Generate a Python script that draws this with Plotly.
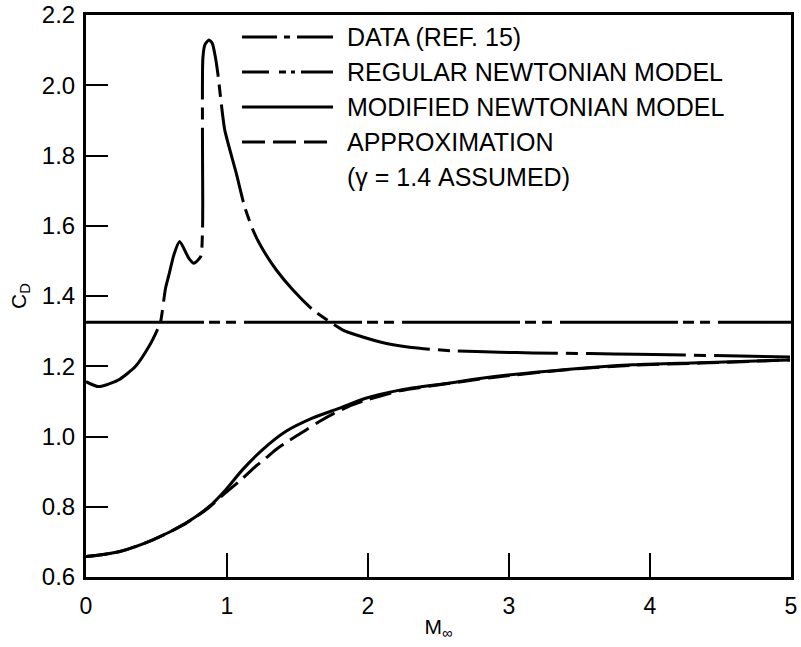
import plotly.graph_objects as go

# ---------------- data ----------------
data_M = [0.0, 0.09, 0.23, 0.35, 0.446, 0.505, 0.529, 0.564, 0.588, 0.623, 0.664,
          0.73, 0.765, 0.813, 0.826, 0.828, 0.826, 0.829, 0.843, 0.872, 0.896, 0.919,
          0.938, 0.955, 0.984, 1.066, 1.125, 1.184, 1.243, 1.350, 1.468, 1.610, 1.728,
          1.823, 1.918, 2.131, 2.367, 2.601, 2.935, 3.169, 3.573, 3.907, 4.638, 4.993]
data_CD = [1.156, 1.142, 1.161, 1.199, 1.256, 1.303, 1.327, 1.422, 1.460, 1.517, 1.555,
           1.507, 1.493, 1.512, 1.583, 1.668, 1.85, 2.077, 2.115, 2.129, 2.119, 2.077,
           2.024, 1.963, 1.873, 1.749, 1.654, 1.588, 1.540, 1.474, 1.417, 1.360, 1.327,
           1.303, 1.289, 1.265, 1.251, 1.244, 1.240, 1.238, 1.236, 1.234, 1.229, 1.226]

newton_M = [0.0, 5.0]
newton_CD = [1.325, 1.325]

modified_M = [0.0, 0.233, 0.47, 0.706, 0.872, 0.99, 1.109, 1.251, 1.416, 1.605, 1.794,
              1.984, 2.225, 2.556, 2.885, 3.408, 3.879, 4.354, 4.993]
modified_CD = [0.658, 0.672, 0.705, 0.753, 0.800, 0.848, 0.905, 0.962, 1.014, 1.052, 1.080,
               1.109, 1.132, 1.151, 1.170, 1.191, 1.204, 1.210, 1.218]

approx_M = [0.0, 0.233, 0.47, 0.706, 0.872, 0.99, 1.097, 1.215, 1.274, 1.357, 1.428, 1.558,
            1.652, 1.759, 1.889, 2.0, 2.225, 2.556, 2.885, 3.408, 3.879, 4.354, 4.993]
approx_CD = [0.658, 0.672, 0.705, 0.752, 0.798, 0.840, 0.876, 0.919, 0.938, 0.966, 0.985,
             1.018, 1.042, 1.066, 1.090, 1.105, 1.130, 1.150, 1.168, 1.190, 1.203, 1.209, 1.218]

legend_labels = ["DATA (REF. 15)", "REGULAR NEWTONIAN MODEL",
                 "MODIFIED NEWTONIAN MODEL", "APPROXIMATION"]
note_label = "(\u03b3 = 1.4 ASSUMED)"

x_ticks = [0, 1, 2, 3, 4, 5]
y_ticks = [0.6, 0.8, 1.0, 1.2, 1.4, 1.6, 1.8, 2.0, 2.2]

# ---------------- styles ----------------
FONT = "Liberation Sans, Arial, Helvetica, sans-serif"
W, H = 801, 647
ML, MR, MT, MB = 86, 10, 15, 70
data_dash = "100px,8px,12px,8px"
newton_dash = "118px,5px,11px,6px,10px,8px"
approx_dash = "22px,8px"
key_dashes = ["35px,7px,6px,7px,40px", "27px,10px,7px,5px,4px,6px,40px", "solid", "23px,8px"]

fig = go.Figure()
fig.add_trace(go.Scatter(x=newton_M, y=newton_CD, mode="lines",
                         line=dict(color="black", width=3, dash=newton_dash),
                         name=legend_labels[1], showlegend=False))
fig.add_trace(go.Scatter(x=data_M, y=data_CD, mode="lines",
                         line=dict(color="black", width=3, dash=data_dash, shape="spline", smoothing=0.6),
                         name=legend_labels[0], showlegend=False))
fig.add_trace(go.Scatter(x=approx_M, y=approx_CD, mode="lines",
                         line=dict(color="black", width=3, dash=approx_dash, shape="spline", smoothing=0.8),
                         name=legend_labels[3], showlegend=False))
fig.add_trace(go.Scatter(x=modified_M, y=modified_CD, mode="lines",
                         line=dict(color="black", width=3, shape="spline", smoothing=0.8),
                         name=legend_labels[2], showlegend=False))

# ---------------- custom legend (layout decoration, paper coords) ----------------
pw = W - ML - MR
ph = H - MT - MB
def px_x(p):
    return (p - ML) / pw
def px_y(p):
    return (H - MB - p) / ph

key_x0, key_x1, text_x = 242, 333, 345
rows = [37, 72, 107, 142, 177]
shapes = []
annotations = []
for i, lab in enumerate(legend_labels):
    shapes.append(dict(type="line", xref="paper", yref="paper",
                       x0=px_x(key_x0), x1=px_x(key_x1), y0=px_y(rows[i]), y1=px_y(rows[i]),
                       line=dict(color="black", width=3, dash=key_dashes[i])))
for i, lab in enumerate(legend_labels + [note_label]):
    annotations.append(dict(xref="paper", yref="paper", x=px_x(text_x), y=px_y(rows[i]),
                            text=lab, showarrow=False, xanchor="left", yanchor="middle",
                            font=dict(family=FONT, size=25, color="black")))

fig.update_layout(
    width=W, height=H,
    margin=dict(l=ML, r=MR, t=MT, b=MB, autoexpand=False),
    plot_bgcolor="white", paper_bgcolor="white",
    font=dict(family=FONT, color="black", size=22),
    shapes=shapes, annotations=annotations,
    showlegend=False,
)
fig.update_xaxes(range=[0, 5], tickvals=x_ticks, ticktext=[str(t) for t in x_ticks],
                 ticks="inside", ticklen=24, tickwidth=2, tickcolor="black",
                 showline=True, linewidth=3, linecolor="black", mirror=True,
                 showgrid=False, zeroline=False, ticklabelstandoff=6, automargin=False,
                 tickfont=dict(size=23),
                 title=dict(text="M<sub>\u221e</sub>", font=dict(size=21), standoff=2))
fig.update_yaxes(range=[0.6, 2.2], tickvals=y_ticks, ticktext=[f"{v:.1f}" for v in y_ticks],
                 ticks="inside", ticklen=22, tickwidth=2, tickcolor="black",
                 showline=True, linewidth=3, linecolor="black", mirror=True,
                 showgrid=False, zeroline=False, ticklabelstandoff=3, automargin=False,
                 tickfont=dict(size=24),
                 title=dict(text="C<sub>D</sub>", font=dict(size=21), standoff=10))

fig.write_html("out.html", config={"displayModeBar": False},
               post_script="document.body.style.margin='0px';document.body.style.overflow='hidden';")
